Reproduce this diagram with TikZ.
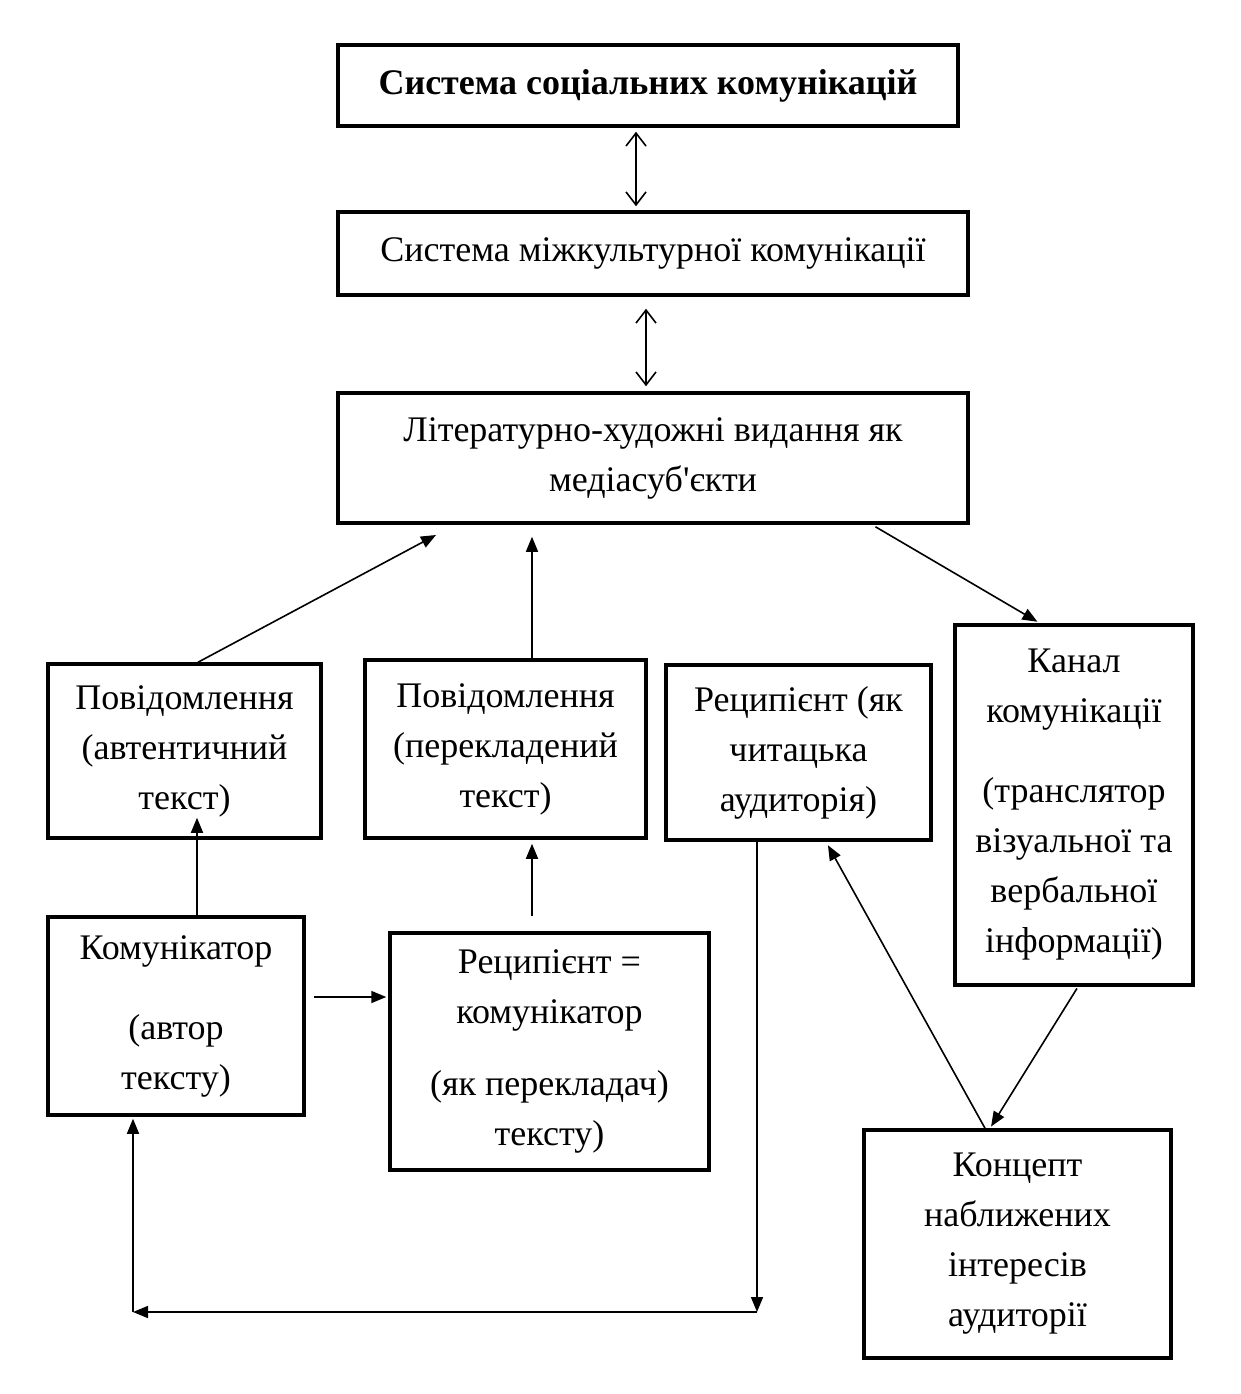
\documentclass[tikz,border=0pt]{standalone}
\usepackage{fontspec}
\setmainfont{Liberation Serif}
\newfontfamily\plainserif{Liberation Serif}
\usetikzlibrary{arrows.meta}
\begin{document}
\begin{tikzpicture}[x=1pt,y={(0pt,-1pt)},
  box/.style={draw, line width=3.5pt, rectangle, align=center, inner sep=0pt,
    font=\fontsize{36}{50}\selectfont},
  arr/.style={line width=1.6pt, -{Triangle[length=15pt,width=12pt]}},
  dbl/.style={line width=1.6pt, {Straight Barb[length=13pt,width=20pt,line width=1.6pt]}-{Straight Barb[length=13pt,width=20pt,line width=1.6pt]}},
  ln/.style={line width=1.6pt}]
\useasboundingbox (0,0) rectangle (1241,1394);
\node[box, minimum width=620pt, minimum height=81pt] (b1) at (648,85.5) {\textbf{Система соціальних комунікацій}};
\node[box, minimum width=630pt, minimum height=83pt] (b2) at (653,253.5) {Система міжкультурної комунікації};
\node[box, minimum width=630pt, minimum height=130pt] (b3) at (653,458) {Літературно-художні видання як\\{\plainserif медіасуб'єкти}};
\node[box, minimum width=273pt, minimum height=174pt] (b4) at (184.5,751) {Повідомлення\\(автентичний\\текст)};
\node[box, minimum width=281pt, minimum height=178pt] (b5) at (505.5,749) {Повідомлення\\(перекладений\\текст)};
\node[box, minimum width=265pt, minimum height=175pt] (b6) at (798.5,752.5) {Реципієнт (як\\читацька\\аудиторія)};
\node[box, minimum width=238pt, minimum height=360pt] (b7) at (1074,805) {Канал\\комунікації\\[30pt](транслятор\\візуальної та\\вербальної\\інформації)};
\node[box, minimum width=256pt, minimum height=198pt] (b8) at (176,1016) {Комунікатор\\[30pt](автор\\тексту)};
\node[box, minimum width=319pt, minimum height=237pt] (b9) at (549.5,1051.5) {Реципієнт =\\комунікатор\\[22pt](як перекладач)\\тексту)};
\node[box, minimum width=307pt, minimum height=228pt] (b10) at (1017.5,1244) {Концепт\\наближених\\інтересів\\аудиторії};
\coordinate (t1) at (436,535);
\coordinate (c1) at (757,1312);
\coordinate (c2) at (133,1312);
% connectors
\draw[dbl, shorten <=4pt, shorten >=4pt] ([xshift=-12pt]b1.south) -- ([xshift=-17pt]b2.north);
\draw[dbl, shorten <=12pt, shorten >=5pt] ([xshift=-7pt]b2.south) -- ([xshift=-7pt]b3.north);
\draw[arr] ([xshift=13.5pt]b4.north) -- (t1);
\draw[arr, shorten >=12pt] ([xshift=26.5pt]b5.north) -- ([xshift=-121pt]b3.south);
\draw[arr, shorten <=4pt, shorten >=3pt] ([xshift=219pt]b3.south) -- ([xshift=-34pt]b7.north);
\draw[arr] ([xshift=21pt]b8.north) -- ([xshift=12.5pt,yshift=22pt]b4.south);
\draw[arr, shorten <=15pt, shorten >=4pt] ([xshift=-17.5pt]b9.north) -- ([xshift=26.5pt]b5.south);
\draw[arr, shorten <=8pt, shorten >=2pt] ([yshift=19pt]b8.east) -- ([yshift=54.5pt]b9.west);
\draw[arr] ([xshift=-41.5pt]b6.south) -- (c1);
\draw[arr] (c1) -- (c2);
\draw[arr, shorten >=2pt] (c2) -- ([xshift=-43pt]b8.south);
\draw[arr, shorten >=4pt] ([xshift=-32.5pt]b10.north) -- ([xshift=27.5pt]b6.south);
\draw[arr, shorten <=2pt, shorten >=2pt] ([xshift=4pt]b7.south) -- ([xshift=-27.5pt]b10.north);
\end{tikzpicture}
\end{document}
